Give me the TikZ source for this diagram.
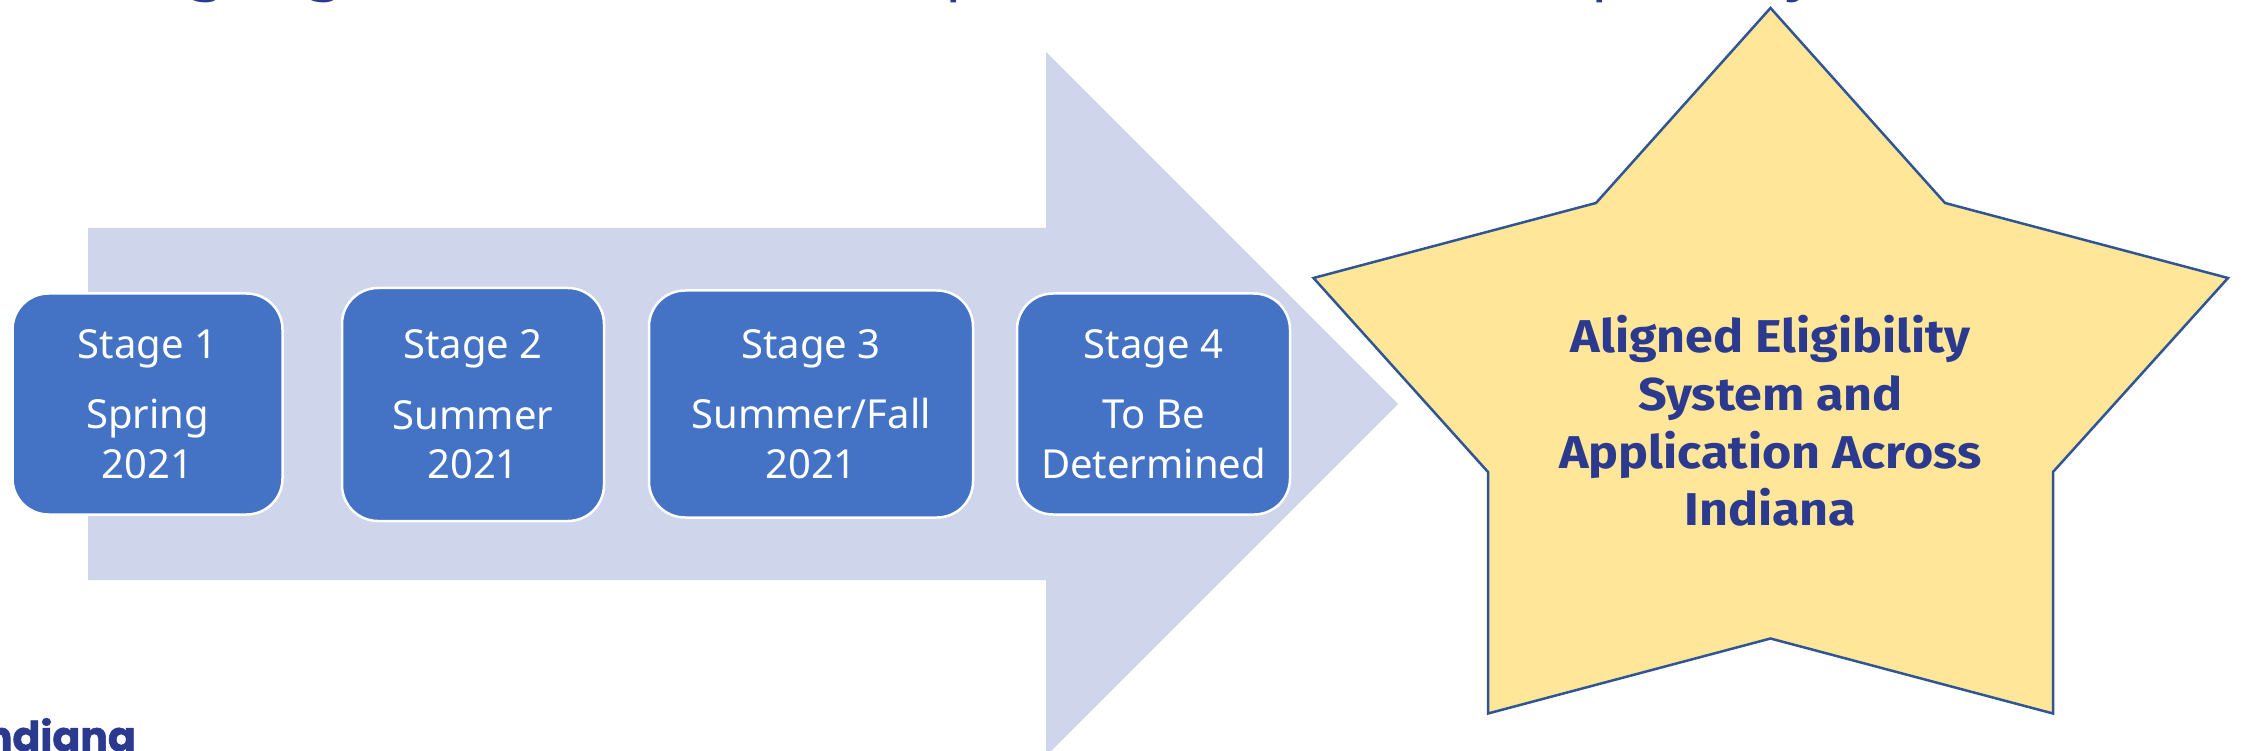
\documentclass[tikz,border=0pt]{standalone}
\usepackage{fontspec}
\setmainfont{Noto Sans}
\newfontfamily\heavyfont{Fira Sans}[FakeStretch=1.09]
\newfontfamily\logofont{Poppins}[BoldFeatures={FakeBold=1.5}]
\definecolor{arrowfill}{HTML}{CFD5EA}
\definecolor{boxfill}{HTML}{4472C4}
\definecolor{starfill}{HTML}{FFE699}
\definecolor{starline}{HTML}{2F5597}
\definecolor{titleblue}{HTML}{2B3A8F}
\tikzset{
  stagebox/.style={draw=white,line width=2.5pt,fill=boxfill,rounded corners=36pt,text=white,align=center,inner sep=0pt,
    font=\fontsize{40}{49.5}\selectfont},
  startext/.style={text=titleblue,align=center,inner sep=0pt,font=\fontsize{46}{57.6}\heavyfont\bfseries},
  cuttext/.style={text=titleblue,inner sep=0pt,anchor=base,font=\fontsize{64}{64}\selectfont}
}
\begin{document}
\begin{tikzpicture}[x=1pt,y=-1pt]
\useasboundingbox (0,0) rectangle (2244,751);
\clip (0,0) rectangle (2244,751);
\fill[white] (0,0) rectangle (2244,751);
\node[cuttext] (t1) at (207,-12) {g};
\node[cuttext] (t2) at (325,-12) {g};
\node[cuttext] (t3) at (965,-12) {p};
\node[cuttext] (t4) at (1611,-12) {p};
\node[cuttext] (t5) at (1803,-12) {y};
\fill[arrowfill] (88,228) -- (1046,228) -- (1046,52) -- (1398,404) -- (1046,756) -- (1046,580) -- (88,580) -- cycle;
\node[stagebox,minimum width=270pt,minimum height=221pt] (s1) at (147.5,404) {Stage 1\\[21pt]Spring\\2021};
\node[stagebox,minimum width=262pt,minimum height=233pt] (s2) at (473,404.5) {Stage 2\\[21pt]Summer\\2021};
\node[stagebox,minimum width=324pt,minimum height=227pt] (s3) at (811,404) {Stage 3\\[21pt]Summer/Fall\\2021};
\node[stagebox,minimum width=273pt,minimum height=221pt] (s4) at (1153.5,404) {Stage 4\\[21pt]To Be\\Determined};
\draw[starline,line width=2.5pt,fill=starfill,line join=miter] (1770.5,8) -- (1945,203) -- (2228,278) -- (2053,472) -- (2053,713.5) -- (1770.5,638.5) -- (1488,713.5) -- (1488,472) -- (1313.5,278) -- (1596,203) -- cycle;
\node[startext] (goal) at (1770.5,421) {Aligned Eligibility\\System and\\Application Across\\Indiana};
\node[text=titleblue,inner sep=0pt,anchor=base east,font=\fontsize{41}{41}\logofont\bfseries] (logo) at (136,751) {Indiana};
\end{tikzpicture}
\end{document}
